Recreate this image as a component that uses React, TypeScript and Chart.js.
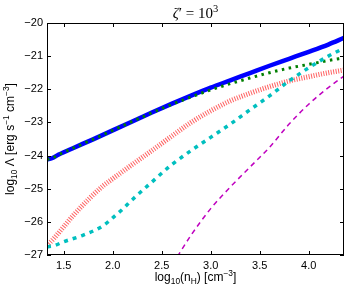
import React, { useEffect, useRef } from "react";
import { Chart, registerables } from "chart.js";

Chart.register(...registerables);

// ---- data (log10 nH vs log10 Lambda) ----
const blueX = [1.33, 1.38, 1.45, 1.6, 1.8, 2.0, 2.2, 2.4, 2.6, 2.8, 3.0, 3.2, 3.4, 3.6, 3.8, 4.0, 4.2, 4.36];
const blueY = [-24.12, -24.08, -23.97, -23.77, -23.51, -23.24, -22.97, -22.7, -22.44, -22.19, -21.95, -21.73, -21.51, -21.29, -21.08, -20.87, -20.65, -20.45];

const greenX = [1.33, 1.38, 1.45, 1.6, 1.8, 2.0, 2.2, 2.4, 2.6, 2.8, 3.0, 3.2, 3.4, 3.6, 3.8, 4.0, 4.2, 4.36];
const greenY = [-24.12, -24.08, -23.97, -23.77, -23.51, -23.24, -22.97, -22.71, -22.46, -22.23, -22.02, -21.83, -21.66, -21.5, -21.36, -21.25, -21.13, -21.05];

const redX = [1.33, 1.4, 1.5, 1.6, 1.75, 1.9, 2.0, 2.2, 2.4, 2.6, 2.8, 3.0, 3.2, 3.4, 3.6, 3.8, 4.0, 4.2, 4.36];
const redY = [-26.72, -26.5, -26.15, -25.8, -25.33, -24.92, -24.7, -24.27, -23.85, -23.42, -23.0, -22.65, -22.35, -22.12, -21.92, -21.75, -21.62, -21.5, -21.42];

const cyanX = [1.33, 1.4, 1.5, 1.7, 1.9, 2.0, 2.1, 2.2, 2.4, 2.6, 2.8, 3.0, 3.2, 3.4, 3.6, 3.8, 4.0, 4.2, 4.36];
const cyanY = [-26.75, -26.72, -26.6, -26.4, -26.12, -25.88, -25.62, -25.33, -24.8, -24.28, -23.85, -23.45, -23.05, -22.62, -22.2, -21.75, -21.35, -21.0, -20.76];

const magX = [2.66, 2.8, 3.0, 3.2, 3.4, 3.6, 3.8, 4.0, 4.2, 4.36];
const magY = [-27.05, -26.4, -25.6, -24.95, -24.35, -23.75, -23.05, -22.45, -21.95, -21.6];

const xTicks = [1.5, 2.0, 2.5, 3.0, 3.5, 4.0];
const yTicks = [-27, -26, -25, -24, -23, -22, -21, -20];

const X_MIN = 1.33;
const X_MAX = 4.36;
const Y_MIN = -27;
const Y_MAX = -20;

const pts = (xs: number[], ys: number[]) => xs.map((x, i) => ({ x, y: ys[i] }));

type Seg = { t: string; sub?: boolean; sup?: boolean; italic?: boolean };

function drawRich(ctx: CanvasRenderingContext2D, segs: Seg[], size: number, family: string, cx: number, cy: number, rot: number) {
  const fontFor = (s: Seg) => {
    const sz = s.sub || s.sup ? size * 0.7 : size;
    return `${s.italic ? "italic " : ""}${sz}px ${family}`;
  };
  let total = 0;
  const widths = segs.map((s) => {
    ctx.font = fontFor(s);
    const w = ctx.measureText(s.t).width;
    total += w;
    return w;
  });
  ctx.save();
  ctx.translate(cx, cy);
  ctx.rotate(rot);
  ctx.fillStyle = "#000";
  ctx.textBaseline = "alphabetic";
  ctx.textAlign = "left";
  let x = -total / 2;
  segs.forEach((s, i) => {
    ctx.font = fontFor(s);
    let dy = 0;
    if (s.sub) dy = size * 0.25;
    if (s.sup) dy = -size * 0.4;
    ctx.fillText(s.t, x, dy);
    x += widths[i];
  });
  ctx.restore();
}

const framePlugin = {
  id: "frame",
  afterDraw(chart: any) {
    const { ctx, chartArea } = chart;
    const { left, right, top, bottom } = chartArea;
    const xs = chart.scales.x;
    const ys = chart.scales.y;
    ctx.save();
    ctx.strokeStyle = "#000";
    ctx.lineWidth = 1;
    ctx.strokeRect(Math.round(left) + 0.5, Math.round(top) + 0.5, Math.round(right - left) - 1, Math.round(bottom - top) - 1);
    const L = 4;
    ctx.beginPath();
    xTicks.forEach((v) => {
      const px = Math.round(xs.getPixelForValue(v)) + 0.5;
      ctx.moveTo(px, bottom);
      ctx.lineTo(px, bottom - L);
      ctx.moveTo(px, top);
      ctx.lineTo(px, top + L);
    });
    yTicks.forEach((v) => {
      const py = Math.round(ys.getPixelForValue(v)) + 0.5;
      ctx.moveTo(left, py);
      ctx.lineTo(left + L, py);
      ctx.moveTo(right, py);
      ctx.lineTo(right - L, py);
    });
    ctx.stroke();
    ctx.restore();

    // title
    drawRich(ctx, [{ t: "ζ", italic: true }, { t: "′ = 10" }, { t: "3", sup: true }], 15, "'Liberation Serif'", (left + right) / 2, 18, 0);
    // x label
    drawRich(
      ctx,
      [{ t: "log" }, { t: "10", sub: true }, { t: "(n" }, { t: "H", sub: true }, { t: ") [cm" }, { t: "−3", sup: true }, { t: "]" }],
      12,
      "'Liberation Sans'",
      (left + right) / 2,
      281,
      0
    );
    // y label
    drawRich(
      ctx,
      [{ t: "log" }, { t: "10", sub: true }, { t: " Λ [erg s" }, { t: "−1", sup: true }, { t: " cm" }, { t: "−3", sup: true }, { t: "]" }],
      12,
      "'Liberation Sans'",
      14,
      (top + bottom) / 2,
      -Math.PI / 2
    );
  },
};

export default function App() {
  const ref = useRef<HTMLCanvasElement>(null);
  useEffect(() => {
    if (!ref.current) return;
    const chart = new Chart(ref.current, {
      type: "line",
      data: {
        datasets: [
          { data: pts(magX, magY), borderColor: "#bf00bf", borderWidth: 1.5, borderDash: [5, 4], pointRadius: 0, fill: false, cubicInterpolationMode: "monotone" },
          { data: pts(cyanX, cyanY), borderColor: "#00bfbf", borderWidth: 3.5, borderDash: [4, 5], pointRadius: 0, fill: false, cubicInterpolationMode: "monotone" },
          { data: pts(redX, redY), borderColor: "rgba(255,70,70,0.85)", borderWidth: 5, borderDash: [1, 1.5], pointRadius: 0, fill: false, cubicInterpolationMode: "monotone" },
          { data: pts(greenX, greenY), borderColor: "#007f00", borderWidth: 3, borderDash: [2.5, 4.5], pointRadius: 0, fill: false, cubicInterpolationMode: "monotone" },
          { data: pts(blueX, blueY), borderColor: "#0000ff", borderWidth: 4.5, pointRadius: 0, fill: false, cubicInterpolationMode: "monotone" },
        ] as any,
      },
      options: {
        animation: false,
        responsive: false,
        events: [],
        layout: { padding: { top: 23, right: 5, left: 0, bottom: 0 } },
        plugins: { legend: { display: false }, tooltip: { enabled: false }, title: { display: false } },
        scales: {
          x: {
            type: "linear",
            min: X_MIN,
            max: X_MAX,
            grid: { display: false, drawTicks: false },
            border: { display: false },
            afterBuildTicks: (s: any) => {
              s.ticks = xTicks.map((v) => ({ value: v }));
            },
            afterFit: (s: any) => {
              s.height = 37;
            },
            ticks: {
              color: "#000",
              padding: 4,
              maxRotation: 0,
              font: { family: "'Liberation Sans'", size: 11 },
              callback: (v: any) => Number(v).toFixed(1),
            },
          },
          y: {
            type: "linear",
            min: Y_MIN,
            max: Y_MAX,
            grid: { display: false, drawTicks: false },
            border: { display: false },
            afterBuildTicks: (s: any) => {
              s.ticks = yTicks.map((v) => ({ value: v }));
            },
            afterFit: (s: any) => {
              s.width = 47;
            },
            ticks: {
              color: "#000",
              padding: 4,
              font: { family: "'Liberation Sans'", size: 11 },
              callback: (v: any) => String(v).replace("-", "−"),
            },
          },
        },
      },
      plugins: [framePlugin],
    });
    return () => chart.destroy();
  }, []);
  return (
    <div style={{ position: "fixed", left: 0, top: 0, width: 349, height: 292, background: "#fff" }}>
      <canvas ref={ref} width={349} height={292} style={{ display: "block" }} />
    </div>
  );
}
